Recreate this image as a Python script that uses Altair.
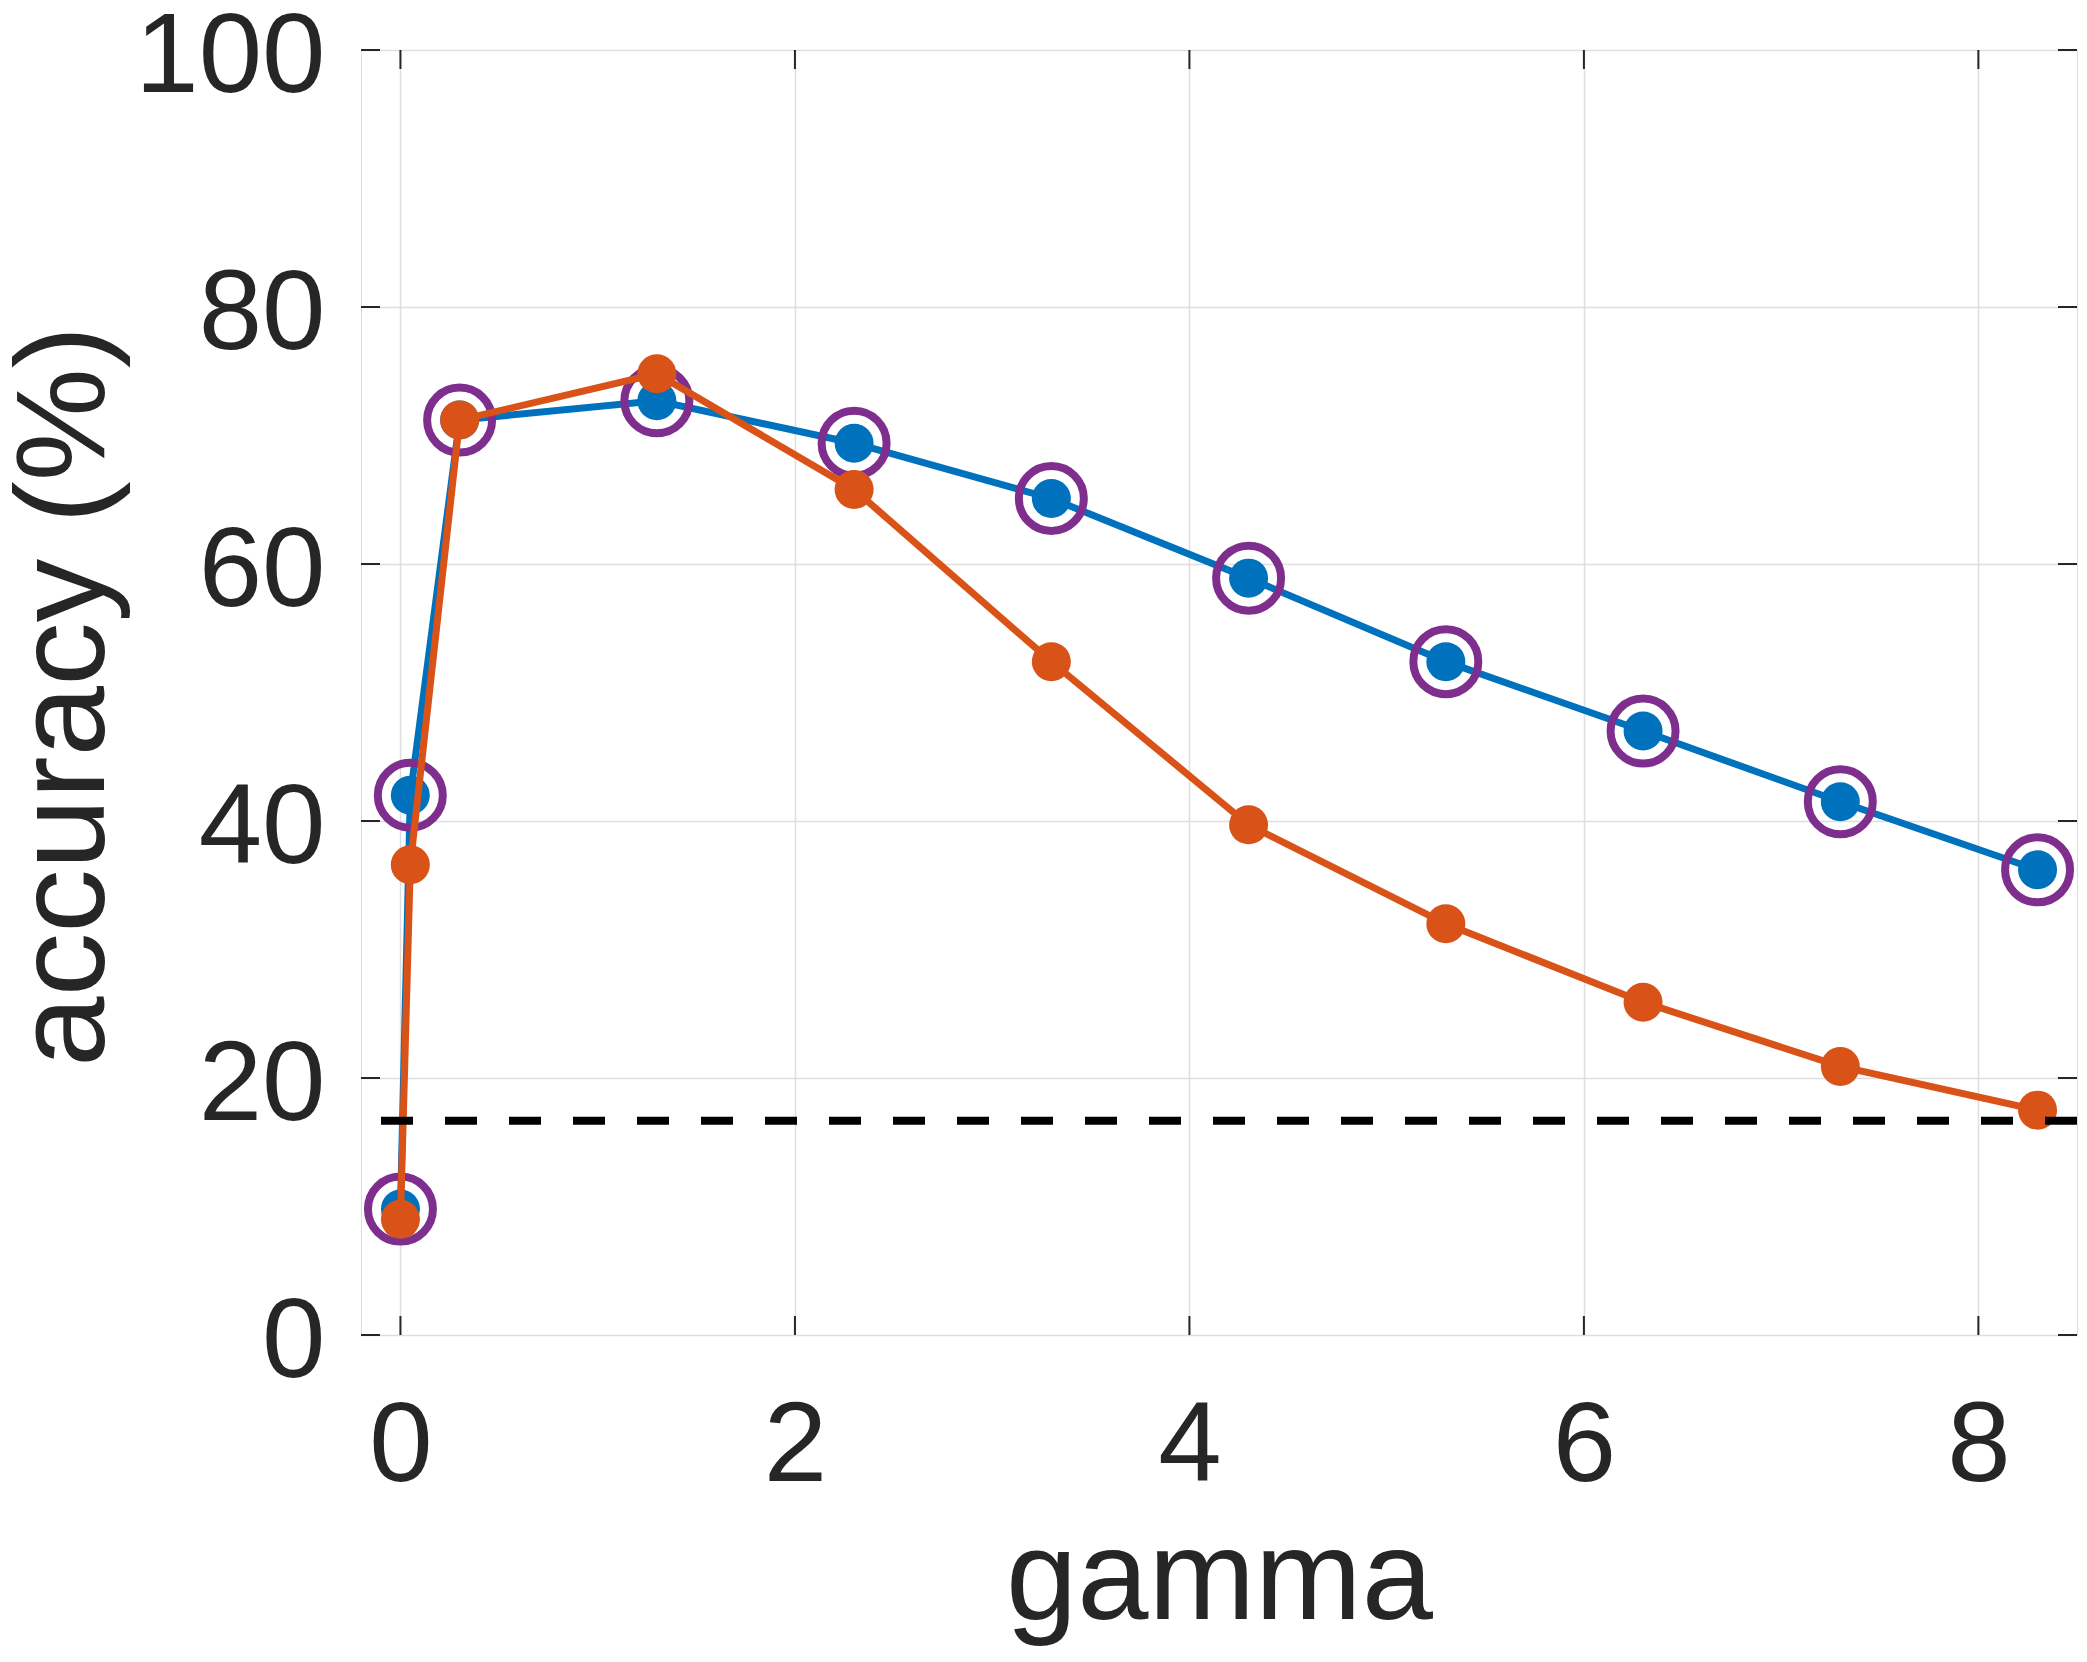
import altair as alt
import pandas as pd

# ---- data ----
gamma = [0, 0.05, 0.3, 1.3, 2.3, 3.3, 4.3, 5.3, 6.3, 7.3, 8.3]
acc_blue = [9.8, 42.0, 71.2, 72.7, 69.4, 65.1, 58.9, 52.4, 47.0, 41.5, 36.2]
acc_orange = [9.0, 36.6, 71.2, 74.8, 65.8, 52.4, 39.7, 32.0, 25.9, 20.9, 17.5]
chance = [100 / 6]
x_ticks = [0, 2, 4, 6, 8]
y_ticks = [0, 20, 40, 60, 80, 100]

BLUE = "#0072BD"
ORANGE = "#D95319"
PURPLE = "#7E2F8E"
TXT = "#262626"
FONT = "Liberation Sans"

W, H = 1716, 1285

df = pd.DataFrame({"gamma": gamma, "blue": acc_blue, "orange": acc_orange})
df_chance = pd.DataFrame({"c": chance})
df_xt = pd.DataFrame({"t": x_ticks})
df_yt = pd.DataFrame({"t": y_ticks})

xscale = alt.Scale(domain=[-0.2, 8.5], nice=False, zero=False)
yscale = alt.Scale(domain=[0, 100], nice=False)

xaxis = alt.Axis(
    values=x_ticks, format="d", title="gamma", grid=True, domain=False,
    ticks=False, tickSize=0, labelPadding=55, labelFontSize=114, labelLimit=0,
    labelFont=FONT, labelColor=TXT, titleFont=FONT, titleFontSize=128,
    titleFontWeight="normal", titleColor=TXT, titleBaseline="alphabetic",
    titleY=283, titleLimit=0, gridColor="#DEDEDE", gridWidth=1.5,
)
yaxis = alt.Axis(
    values=y_ticks, format="d", title="accuracy (%)", grid=True, domain=False,
    ticks=False, tickSize=0, labelPadding=36, labelFontSize=114, labelOffset=7,
    labelLimit=0, labelFont=FONT, labelColor=TXT, titleFont=FONT,
    titleFontSize=127, titleFontWeight="normal", titleColor=TXT,
    titleBaseline="alphabetic", titleAngle=270, titleX=-258, titleY=646,
    titleAlign="center", titleLimit=0, gridColor="#DEDEDE", gridWidth=1.5,
)

X = alt.X("gamma:Q", scale=xscale, axis=xaxis)


def Y(field):
    return alt.Y(f"{field}:Q", scale=yscale, axis=yaxis)


base = alt.Chart(df)
blue_line = base.mark_line(color=BLUE, strokeWidth=7).encode(x=X, y=Y("blue"))
blue_pts = base.mark_point(filled=True, shape="circle", size=1521, color=BLUE, opacity=1).encode(x=X, y=Y("blue"))
rings = base.mark_point(filled=False, shape="circle", size=4225, color=PURPLE, strokeWidth=8, opacity=1).encode(x=X, y=Y("blue"))
orange_line = base.mark_line(color=ORANGE, strokeWidth=7).encode(x=X, y=Y("orange"))
orange_pts = base.mark_point(filled=True, shape="circle", size=1521, color=ORANGE, opacity=1).encode(x=X, y=Y("orange"))

chance_rule = alt.Chart(df_chance).mark_rule(color="black", strokeWidth=8, strokeDash=[32, 32]).encode(
    y=alt.Y("c:Q", scale=yscale, axis=yaxis)
)

TL = 19
tick_kw = dict(color=TXT, strokeWidth=2)
yt_left = alt.Chart(df_yt).mark_rule(**tick_kw).encode(
    y=alt.Y("t:Q", scale=yscale, axis=yaxis), x=alt.value(0), x2=alt.value(TL))
yt_right = alt.Chart(df_yt).mark_rule(**tick_kw).encode(
    y=alt.Y("t:Q", scale=yscale, axis=yaxis), x=alt.value(W - TL), x2=alt.value(W))
xt_bottom = alt.Chart(df_xt).mark_rule(**tick_kw).encode(
    x=alt.X("t:Q", scale=xscale, axis=xaxis), y=alt.value(H), y2=alt.value(H - TL))
xt_top = alt.Chart(df_xt).mark_rule(**tick_kw).encode(
    x=alt.X("t:Q", scale=xscale, axis=xaxis), y=alt.value(0), y2=alt.value(TL))

chart = alt.layer(
    blue_line, blue_pts, rings, orange_line, orange_pts, chance_rule,
    yt_left, yt_right, xt_bottom, xt_top,
).properties(
    width=W, height=H,
    autosize=alt.AutoSizeParams(type="none"),
    padding={"left": 353, "top": 42, "right": 2, "bottom": 311},
).configure_view(
    stroke=TXT, strokeWidth=2
).configure(background="white")

chart.save("out.html", embed_options={"renderer": "svg", "actions": False})
